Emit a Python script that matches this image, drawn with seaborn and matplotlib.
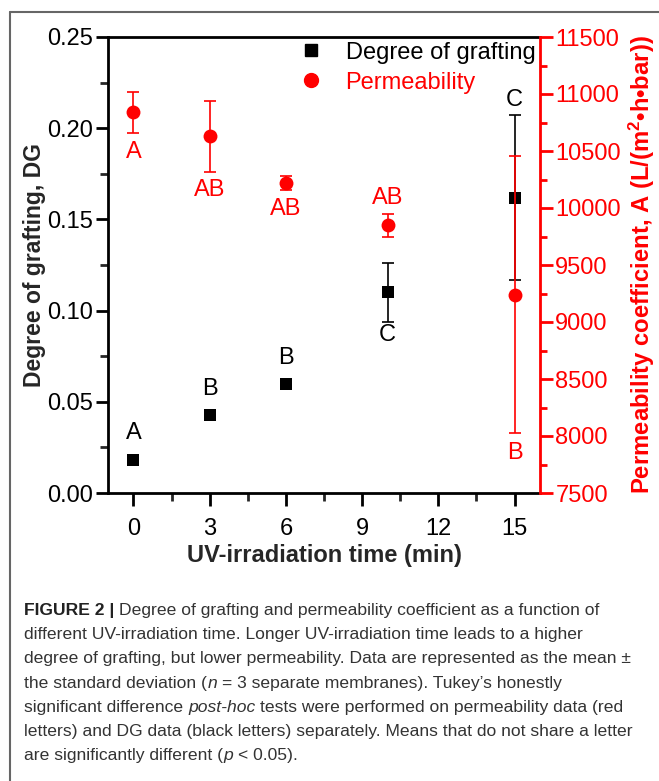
import numpy as np
import pandas as pd
import matplotlib
matplotlib.use("Agg")
import matplotlib.pyplot as plt
import seaborn as sns
from matplotlib.lines import Line2D
from matplotlib.ticker import MultipleLocator, FormatStrFormatter

# ---------------- data ----------------
time_min = [0, 3, 6, 10, 15]
dg_mean = [0.018, 0.043, 0.060, 0.110, 0.162]
dg_sd = [0.002, 0.001, 0.002, 0.016, 0.045]
perm_mean = [10840, 10630, 10220, 9850, 9240]
perm_sd = [180, 310, 60, 100, 1215]
dg_letters = ["A", "B", "B", "C", "C"]
perm_letters = ["A", "AB", "AB", "AB", "B"]
x_ticks = [0, 3, 6, 9, 12, 15]

# ---------------- style ----------------
dg_side = [1, 1, 1, -1, 1]        # letter above (+1) / below (-1) the error bar
perm_side = [-1, -1, -1, 1, -1]
dg_gap = [17, 17, 16, 10, 11]     # points between bar end and letter centre
perm_gap = [14, 13, 14, 11, 14]
RED = "#ff0000"

sns.set_style("ticks")
plt.rcParams["font.family"] = ["Liberation Sans", "DejaVu Sans"]
plt.rcParams["mathtext.fontset"] = "custom"
plt.rcParams["mathtext.rm"] = "Liberation Sans:bold"
plt.rcParams["mathtext.bf"] = "Liberation Sans:bold"
plt.rcParams["mathtext.it"] = "Liberation Sans:bold"

df = pd.DataFrame({"time": time_min, "dg": dg_mean, "dg_sd": dg_sd,
                   "perm": perm_mean, "perm_sd": perm_sd})

fig = plt.figure(figsize=(6.59, 7.81), dpi=100)
W, H = 659, 781
ax = fig.add_axes([108 / W, 1 - 493 / H, (540 - 108) / W, (493 - 37) / H])
ax2 = ax.twinx()

# DG series
ax.errorbar(df["time"], df["dg"], yerr=df["dg_sd"], fmt="none", ecolor="black",
            elinewidth=1.2, capsize=4.5, capthick=1.2, zorder=2)
sns.scatterplot(data=df, x="time", y="dg", marker="s", color="black", s=65,
                linewidth=0, ax=ax, zorder=3)

# Permeability series
ax2.errorbar(df["time"], df["perm"], yerr=df["perm_sd"], fmt="none", ecolor=RED,
             elinewidth=1.2, capsize=4.5, capthick=1.2, zorder=2)
sns.scatterplot(data=df, x="time", y="perm", marker="o", color=RED, s=100,
                linewidth=0, ax=ax2, zorder=3)

# letters
LET_SIZE = 17
for xi, m, s, lab, side, gap in zip(time_min, dg_mean, dg_sd, dg_letters, dg_side, dg_gap):
    ax.annotate(lab, xy=(xi, m + side * s), xytext=(0, side * gap),
                textcoords="offset points", ha="center", va="center",
                fontsize=LET_SIZE, color="black", annotation_clip=False)
for xi, m, s, lab, side, gap in zip(time_min, perm_mean, perm_sd, perm_letters, perm_side, perm_gap):
    ax2.annotate(lab, xy=(xi, m + side * s), xytext=(0, side * gap),
                 textcoords="offset points", ha="center", va="center",
                 fontsize=LET_SIZE, color=RED, annotation_clip=False)

# axes limits & ticks
ax.set_xlim(-1, 16)
ax.set_ylim(0, 0.25)
ax2.set_ylim(7500, 11500)
ax.set_xticks(x_ticks)
ax.xaxis.set_minor_locator(MultipleLocator(1.5))
ax.yaxis.set_major_locator(MultipleLocator(0.05))
ax.yaxis.set_minor_locator(MultipleLocator(0.025))
ax.yaxis.set_major_formatter(FormatStrFormatter("%.2f"))
ax2.yaxis.set_major_locator(MultipleLocator(500))
ax2.yaxis.set_minor_locator(MultipleLocator(250))

ax.tick_params(axis="both", which="major", direction="out", length=9, width=2.0,
               labelsize=17, colors="black")
ax.tick_params(axis="both", which="minor", direction="out", length=6, width=2.0)
ax.tick_params(axis="x", which="major", pad=9)
ax.tick_params(axis="y", which="major", pad=2)
ax2.tick_params(axis="y", which="major", direction="out", length=9, width=2.0,
                labelsize=17, colors=RED, pad=2)
ax2.tick_params(axis="y", which="minor", direction="out", length=5, width=2.0, colors=RED)

for sp in ["left", "bottom", "top"]:
    ax.spines[sp].set_visible(True)
    ax.spines[sp].set_linewidth(2.0)
    ax.spines[sp].set_color("black")
ax.spines["right"].set_visible(False)
for sp in ["left", "bottom", "top"]:
    ax2.spines[sp].set_visible(False)
ax2.spines["right"].set_visible(True)
ax2.spines["right"].set_linewidth(2.0)
ax2.spines["right"].set_color(RED)

ax.set_xlabel("UV-irradiation time (min)", fontsize=17, fontweight="bold", labelpad=3)
ax.set_ylabel("Degree of grafting, DG", fontsize=16.5, fontweight="bold", labelpad=0.5)
ax2.set_ylabel(r"Permeability coefficient, A (L/(m$^{2}$•h•bar))", fontsize=17.2,
               fontweight="bold", color=RED, labelpad=4)

# legend
handles = [Line2D([], [], marker="s", color="black", linestyle="none", markersize=8),
           Line2D([], [], marker="o", color=RED, linestyle="none", markersize=10)]
leg = ax2.legend(handles, ["Degree of grafting", "Permeability"], loc="upper right",
                 bbox_to_anchor=(1.0, 1.0), frameon=False, fontsize=17,
                 handlelength=1.0, handletextpad=0.95, borderaxespad=0.1,
                 borderpad=0.1, labelspacing=0.33)
for t, c in zip(leg.get_texts(), ["black", RED]):
    t.set_color(c)

# figure frame lines
fig.add_artist(Line2D([10 / W, 10 / W], [0, 1 - 12 / H], color="#666666", lw=1.5,
                      transform=fig.transFigure))
fig.add_artist(Line2D([10 / W, 1], [1 - 12 / H, 1 - 12 / H], color="#666666", lw=1.5,
                      transform=fig.transFigure))

# caption
CAP_FONT = ["Liberation Sans", "DejaVu Sans"]
CAP_SIZE = 12.6
CAP_COLOR = "#333333"
space_pts = 0.278 * CAP_SIZE
caption_lines = [
    [("FIGURE 2 |", "b", False), ("Degree of grafting and permeability coefficient as a function of", "r", True)],
    [("different UV-irradiation time. Longer UV-irradiation time leads to a higher", "r", False)],
    [("degree of grafting, but lower permeability. Data are represented as the mean ±", "r", False)],
    [("the standard deviation (", "r", False), ("n", "i", False), ("= 3 separate membranes). Tukey’s honestly", "r", True)],
    [("significant difference", "r", False), ("post-hoc", "i", True), ("tests were performed on permeability data (red", "r", True)],
    [("letters) and DG data (black letters) separately. Means that do not share a letter", "r", False)],
    [("are significantly different (", "r", False), ("p", "i", False), ("< 0.05).", "r", True)],
]
y0 = 615
dy = 24.2
for i, segs in enumerate(caption_lines):
    prev = None
    for txt, st, sp in segs:
        kw = dict(fontsize=CAP_SIZE, color=CAP_COLOR, family=CAP_FONT,
                  annotation_clip=False, ha="left", va="baseline")
        if st == "b":
            kw["fontweight"] = "bold"
            kw["color"] = "#222222"
        if st == "i":
            kw["fontstyle"] = "italic"
        if prev is None:
            prev = ax.annotate(txt, xy=(24, H - (y0 + i * dy)), xycoords="figure pixels", **kw)
        else:
            kw["va"] = "bottom"
            prev = ax.annotate(txt, xy=(1, 0), xycoords=prev,
                               xytext=(space_pts if sp else 0.6, 0),
                               textcoords="offset points", **kw)

fig.savefig("out.png", dpi=100)
